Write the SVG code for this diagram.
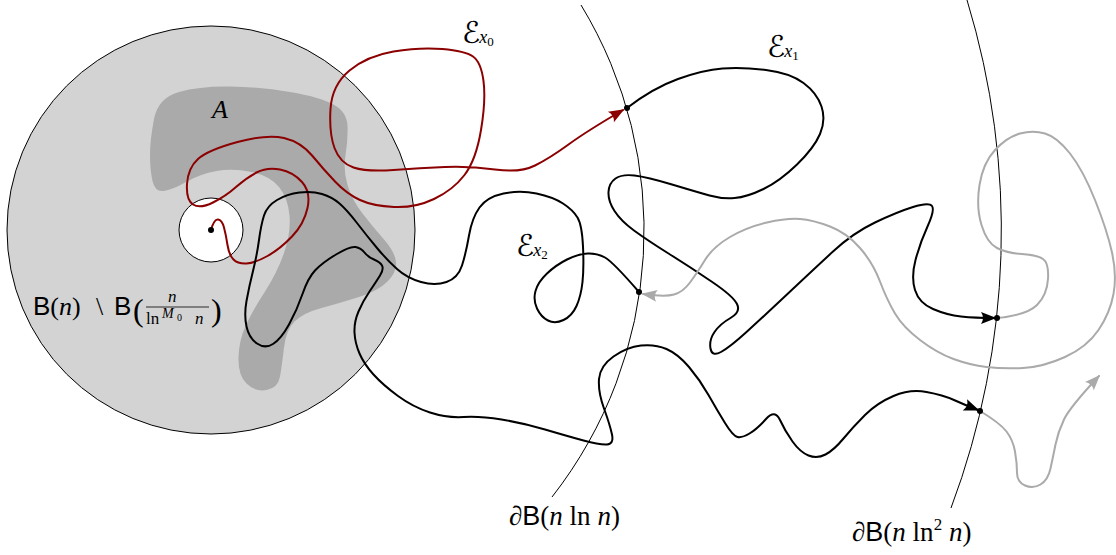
<svg xmlns="http://www.w3.org/2000/svg" width="1116" height="555" viewBox="0 0 1116 555">
<style>
.walk{fill:none;stroke-width:2;stroke-linejoin:round;stroke-linecap:round}
.red{stroke:#8b0000}
.blk{stroke:#000}
.gry{stroke:#aaaaaa}
.bd{fill:none;stroke:#000;stroke-width:1}
.dot{fill:#000}
.m{font-family:"Liberation Serif","DejaVu Serif",serif;fill:#000}
.it{font-style:italic}
.sf{font-family:"Liberation Sans","DejaVu Sans",sans-serif}
.cal{font-family:"DejaVu Serif","DejaVu Sans",serif}
</style>
<defs>
<marker id="arR" markerUnits="userSpaceOnUse" markerWidth="20" markerHeight="16" viewBox="-18 -8 20 16" refX="0" refY="0" orient="auto" overflow="visible"><path d="M1.5,0 L-14,-6 Q-10,0 -14,6 Z" fill="#8b0000"/></marker>
<marker id="arK" markerUnits="userSpaceOnUse" markerWidth="20" markerHeight="16" viewBox="-18 -8 20 16" refX="0" refY="0" orient="auto" overflow="visible"><path d="M1.5,0 L-14,-6 Q-10,0 -14,6 Z" fill="#000"/></marker>
<marker id="arG" markerUnits="userSpaceOnUse" markerWidth="20" markerHeight="16" viewBox="-18 -8 20 16" refX="0" refY="0" orient="auto" overflow="visible"><path d="M1.5,0 L-14,-6 Q-10,0 -14,6 Z" fill="#aaaaaa"/></marker>
</defs>

<g id="ball">
<circle cx="211" cy="230" r="204" fill="#d3d3d3" stroke="#000" stroke-width="1"/>
</g>
<g id="regionA">
<path d="M150,155 Q150,140 154,119 Q158,98 179,92 Q200,86 230,86.5 Q260,87 290,92 Q320,97 333.5,104.5 Q347,112 347.5,126 Q348,140 345.5,155 Q343,170 347.5,185 Q352,200 362.5,213.5 Q373,227 384,239.5 Q395,252 396,262 Q397,272 387.5,281.5 Q378,291 359,297 Q340,303 321.5,308 Q303,313 294.5,321.5 Q286,330 284,347.5 Q282,365 280,376.5 Q278,388 266.5,390 Q255,392 246.5,383.5 Q238,375 238.5,357.5 Q239,340 246,325 Q253,310 265,291.5 Q277,273 284,253 Q291,233 289.5,215.5 Q288,198 279,187 Q270,176 251.5,172 Q233,168 216.5,171 Q200,174 186,182 Q172,190 163.5,191 Q155,192 152.5,181 Q150,170 150,155 Z" fill="#aaaaaa"/>
</g>
<g id="innerBall">
<circle cx="211" cy="230" r="32" fill="#fff" stroke="#000" stroke-width="1"/>
</g>
<g id="spheres">
<path class="bd" d="M581,5 A433,433 0 0 1 552,497"/>
<path class="bd" d="M967,0 A790,790 0 0 1 951,508"/>
</g>

<g id="connectors">
<path id="walkE0" class="walk red" marker-end="url(#arR)" d="M211,230 Q214,219 218,219.5 Q222,220 224,227.5 Q226,235 227.5,245 Q229,255 233.5,259.5 Q238,264 246.5,263.5 Q255,263 267.5,256 Q280,249 292,236.5 Q304,224 307.5,208 Q311,192 302,182 Q293,172 280,169.5 Q267,167 256.5,172.5 Q246,178 236,187 Q226,196 213,202.5 Q200,209 193,204.5 Q186,200 187,184 Q188,168 198,159 Q208,150 237.5,142 Q267,134 284,138 Q301,142 312.5,156 Q324,170 335.5,182 Q347,194 360,200 Q373,206 394,207 Q415,208 434,199 Q453,190 464.5,175 Q476,160 481,130 Q486,100 483.5,81 Q481,62 473,56.5 Q465,51 442.5,49 Q420,47 393.5,51.5 Q367,56 349.5,70.5 Q332,85 330.5,109 Q329,133 334.5,148 Q340,163 353.5,167.5 Q367,172 393.5,170 Q420,168 445,167 Q470,166 495,169.5 Q520,173 535,165.5 Q550,158 568.5,144.5 Q587,131 623,110"/>
<path id="walkE1" class="walk blk" marker-end="url(#arK)" d="M627,108 Q653,88 678,79 Q703,70 722.5,68.5 Q742,67 766,70 Q790,73 803.5,83 Q817,93 821.5,106.5 Q826,120 820,134 Q814,148 797,164.5 Q780,181 763.5,189 Q747,197 734.5,198 Q722,199 709.5,195.5 Q697,192 672,184.5 Q647,177 634.5,175.5 Q622,174 615.5,178.5 Q609,183 608.5,192 Q608,201 614.5,211 Q621,221 634,230.5 Q647,240 668.5,253.5 Q690,267 711.5,281.5 Q733,296 737,304 Q741,312 730.5,318 Q720,324 714.5,332 Q709,340 710.5,348.5 Q712,357 721,352 Q730,347 746.5,332 Q763,317 788,293.5 Q813,270 833,251.5 Q853,233 875,222.5 Q897,212 913,207 Q929,202 932,206 Q935,210 927.5,226.5 Q920,243 915.5,260 Q911,277 915,290 Q919,303 933,309 Q947,315 961,316.5 Q975,318 995,318"/>
<path id="walkBack1" class="walk gry" marker-end="url(#arG)" d="M997,318 Q1027,315 1037,305 Q1047,295 1048,279 Q1049,263 1043,259 Q1037,255 1022,254 Q1007,253 997,248 Q987,243 981.5,225 Q976,207 979.5,185 Q983,163 995,150 Q1007,137 1020,133.5 Q1033,130 1045,133.5 Q1057,137 1070,153.5 Q1083,170 1095,200 Q1107,230 1112,252.5 Q1117,275 1113.5,294 Q1110,313 1098.5,330 Q1087,347 1065,357 Q1043,367 1023,368 Q1003,369 986.5,367 Q970,365 953.5,359 Q937,353 920,340 Q903,327 895,313.5 Q887,300 880,281.5 Q873,263 860,248 Q847,233 830,226.5 Q813,220 800,219 Q787,218 767,222.5 Q747,227 730,237 Q713,247 705,260 Q697,273 690,282.5 Q683,292 674,294.5 Q665,297 643,294"/>
<path id="walkE2" class="walk blk" marker-end="url(#arK)" d="M639,292 Q613,262 605,257.5 Q597,253 587.5,253.5 Q578,254 567,259.5 Q556,265 547,273.5 Q538,282 535.5,291 Q533,300 537,308.5 Q541,317 548,320.5 Q555,324 563.5,320 Q572,316 576.5,306 Q581,296 582.5,282 Q584,268 583,246.5 Q582,225 577.5,217.5 Q573,210 563,203.5 Q553,197 536.5,193.5 Q520,190 503.5,193.5 Q487,197 479.5,207.5 Q472,218 469,235.5 Q466,253 462,265.5 Q458,278 446.5,282 Q435,286 421,282 Q407,278 397,269 Q387,260 377,248 Q367,236 357,223 Q347,210 339.5,203.5 Q332,197 322,194 Q312,191 299.5,192.5 Q287,194 277,200 Q267,206 264,215.5 Q261,225 259,240 Q257,255 253,271 Q249,287 246.5,301 Q244,315 246.5,326.5 Q249,338 257,343.5 Q265,349 273,344 Q281,339 289,324.5 Q297,310 302.5,294 Q308,278 315,270.5 Q322,263 336,254.5 Q350,246 355.5,247 Q361,248 364.5,252.5 Q368,257 374,259.5 Q380,262 382,265.5 Q384,269 380,275.5 Q376,282 369.5,291.5 Q363,301 358.5,311.5 Q354,322 354.5,332.5 Q355,343 359.5,353.5 Q364,364 373.5,374.5 Q383,385 398,396 Q413,407 430,412.5 Q447,418 463.5,417 Q480,416 501.5,419.5 Q523,423 545,429.5 Q567,436 583.5,440.5 Q600,445 607,444.5 Q614,444 612,434.5 Q610,425 604,408.5 Q598,392 599,379 Q600,366 613.5,356.5 Q627,347 641,345.5 Q655,344 666.5,349 Q678,354 689,367 Q700,380 708.5,395 Q717,410 725,423 Q733,436 737.5,437 Q742,438 749.5,433.5 Q757,429 766,419 Q775,409 780,420 Q785,431 792.5,441.5 Q800,452 808.5,455.5 Q817,459 825.5,454.5 Q834,450 843.5,438.5 Q853,427 865,415 Q877,403 893.5,396 Q910,389 926.5,392 Q943,395 954,400 Q965,405 978,410"/>
<path id="walkBack2" class="walk gry" marker-end="url(#arG)" d="M980,411 Q1000,423 1006.5,431.5 Q1013,440 1015,451.5 Q1017,463 1017,472.5 Q1017,482 1025,485.5 Q1033,489 1040.5,484.5 Q1048,480 1050.5,468.5 Q1053,457 1055.5,444.5 Q1058,432 1064,419.5 Q1070,407 1099,376"/>
</g>

<g id="points">
<circle class="dot" cx="211" cy="230" r="3"/>
<circle class="dot" cx="627" cy="108" r="3"/>
<circle class="dot" cx="639" cy="292" r="3"/>
<circle class="dot" cx="997" cy="318" r="3"/>
<circle class="dot" cx="980" cy="411" r="3"/>
</g>

<g id="labels">
<text class="m it" x="212" y="118" font-size="26">A</text>
<text class="m" x="33" y="315" font-size="26"><tspan class="sf">B</tspan>(<tspan class="it">n</tspan>)<tspan x="96">\</tspan><tspan x="114" class="sf">B</tspan></text>
<text class="m" x="133" y="321" font-size="32">(</text>
<text class="m" x="211" y="321" font-size="32">)</text>
<line x1="146" y1="307" x2="209" y2="307" stroke="#000" stroke-width="0.8"/>
<text class="m it" x="168" y="302" font-size="17">n</text>
<text class="m" x="146" y="324" font-size="17">ln</text>
<text class="m it" x="162" y="318" font-size="14">M</text>
<text class="m" x="177" y="321" font-size="10">0</text>
<text class="m it" x="195" y="324" font-size="17">n</text>
<text class="m" x="509" y="525" font-size="27">∂<tspan class="sf">B</tspan>(<tspan class="it">n</tspan> ln <tspan class="it">n</tspan>)</text>
<text class="m" x="852" y="541" font-size="27">∂<tspan class="sf">B</tspan>(<tspan class="it">n</tspan> ln<tspan font-size="17" dy="-11">2</tspan><tspan dy="11"> </tspan><tspan class="it">n</tspan>)</text>
<text class="cal" x="462" y="43" font-size="30">ℰ<tspan class="m it" font-size="18" dx="-1" dy="0">x</tspan><tspan class="m" font-size="13" dy="3">0</tspan></text>
<text class="cal" x="767" y="57" font-size="30">ℰ<tspan class="m it" font-size="18" dx="-1" dy="0">x</tspan><tspan class="m" font-size="13" dy="3">1</tspan></text>
<text class="cal" x="516" y="256" font-size="30">ℰ<tspan class="m it" font-size="18" dx="-1" dy="0">x</tspan><tspan class="m" font-size="13" dy="3">2</tspan></text>
</g>
</svg>
